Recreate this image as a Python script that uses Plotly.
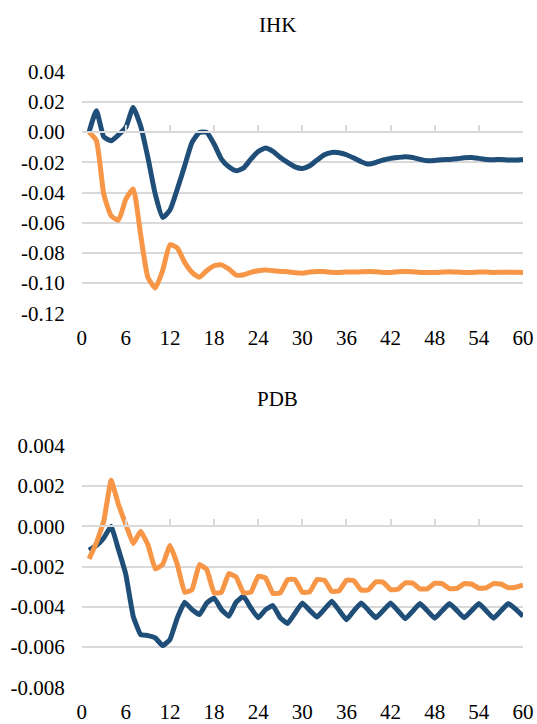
import plotly.graph_objects as go

# ---------------- data ----------------
periods = list(range(1, 61))

ihk_blue = [0.000, 0.0141, -0.0031, -0.0057, -0.0018, 0.0031, 0.0163, 0.0042, -0.0168, -0.0411,
            -0.0565, -0.0516, -0.0377, -0.0223, -0.0068, -0.0002, -0.0002, -0.0079, -0.0179, -0.0230,
            -0.0256, -0.0238, -0.0179, -0.0128, -0.0106, -0.0128, -0.0168, -0.0201, -0.0230, -0.0241,
            -0.0223, -0.0185, -0.0150, -0.0135, -0.0137, -0.0150, -0.0172, -0.0196, -0.0212, -0.0201,
            -0.0185, -0.0174, -0.0168, -0.0163, -0.0168, -0.0181, -0.0190, -0.0188, -0.0183, -0.0181,
            -0.0177, -0.0170, -0.0168, -0.0174, -0.0181, -0.0183, -0.0181, -0.0185, -0.0185, -0.0181]

ihk_orange = [0.000, -0.0057, -0.0411, -0.0554, -0.0583, -0.0444, -0.0377, -0.0675, -0.0962, -0.1033,
              -0.0918, -0.0746, -0.0768, -0.0863, -0.0929, -0.0962, -0.0918, -0.0885, -0.0879, -0.0907,
              -0.0947, -0.0945, -0.0929, -0.0918, -0.0914, -0.0918, -0.0923, -0.0925, -0.0931, -0.0934,
              -0.0927, -0.0923, -0.0923, -0.0929, -0.0929, -0.0927, -0.0927, -0.0925, -0.0923, -0.0925,
              -0.0929, -0.0929, -0.0925, -0.0923, -0.0925, -0.0929, -0.0929, -0.0929, -0.0927, -0.0925,
              -0.0927, -0.0929, -0.0929, -0.0927, -0.0927, -0.0929, -0.0928, -0.0928, -0.0928, -0.0929]

pdb_blue = [-0.00119, -0.00096, -0.00058, 0.00000, -0.00116, -0.00240, -0.00447, -0.00538, -0.00543, -0.00555,
            -0.00593, -0.00563, -0.00455, -0.00377, -0.00414, -0.00439, -0.00381, -0.00356, -0.00414, -0.00447,
            -0.00377, -0.00348, -0.00406, -0.00455, -0.00414, -0.00394, -0.00455, -0.00483, -0.00432, -0.00381,
            -0.00418, -0.00451, -0.00412, -0.00372, -0.00418, -0.00464, -0.00420, -0.00381, -0.00418, -0.00455,
            -0.00418, -0.00381, -0.00420, -0.00460, -0.00422, -0.00384, -0.00420, -0.00457, -0.00420, -0.00384,
            -0.00418, -0.00455, -0.00420, -0.00384, -0.00420, -0.00457, -0.00420, -0.00384, -0.00412, -0.00447]

pdb_orange = [-0.00162, -0.00083, 0.00025, 0.00228, 0.00108, 0.00008, -0.00086, -0.00025, -0.00091, -0.00212,
              -0.00190, -0.00096, -0.00190, -0.00328, -0.00315, -0.00190, -0.00215, -0.00331, -0.00328, -0.00235,
              -0.00252, -0.00331, -0.00328, -0.00248, -0.00257, -0.00334, -0.00331, -0.00265, -0.00265, -0.00328,
              -0.00326, -0.00265, -0.00268, -0.00323, -0.00321, -0.00268, -0.00270, -0.00318, -0.00316, -0.00276,
              -0.00278, -0.00315, -0.00313, -0.00281, -0.00283, -0.00311, -0.00311, -0.00283, -0.00285, -0.00310,
              -0.00309, -0.00285, -0.00287, -0.00308, -0.00306, -0.00285, -0.00287, -0.00305, -0.00303, -0.00293]

titles = ["IHK", "PDB"]

x_tickvals = list(range(0, 61, 6))
x_ticktext = [str(v) for v in x_tickvals]

ihk_tickvals = [0.04, 0.02, 0.00, -0.02, -0.04, -0.06, -0.08, -0.10, -0.12]
ihk_ticktext = ["0.04", "0.02", "0.00", "-0.02", "-0.04", "-0.06", "-0.08", "-0.10", "-0.12"]
pdb_tickvals = [0.004, 0.002, 0.000, -0.002, -0.004, -0.006, -0.008]
pdb_ticktext = ["0.004", "0.002", "0.000", "-0.002", "-0.004", "-0.006", "-0.008"]

# ---------------- style ----------------
W, H = 537, 724
BLUE = "#1F4E79"
ORANGE = "#F79646"
GRID = "#D9D9D9"
FONT = "Liberation Serif"
FS = 21
LW = 5


def px_x(p):
    return p / W


def px_y(p):
    return 1 - p / H


x_dom = [px_x(81.7), px_x(523.0)]
top_dom = [px_y(313.3), px_y(71.7)]
bot_dom = [px_y(687.3), px_y(445.7)]
top_rng = [-0.12, 0.04]
bot_rng = [-0.008, 0.004]


def zero_pos(dom, rng):
    return dom[0] + (0 - rng[0]) / (rng[1] - rng[0]) * (dom[1] - dom[0])


fig = go.Figure()

# top panel
fig.add_trace(go.Scatter(x=periods, y=ihk_orange, mode="lines", line=dict(color=ORANGE, width=LW, shape="spline", smoothing=0.5),
                         xaxis="x", yaxis="y", showlegend=False, hoverinfo="skip"))
fig.add_trace(go.Scatter(x=periods, y=ihk_blue, mode="lines", line=dict(color=BLUE, width=LW, shape="spline", smoothing=0.5),
                         xaxis="x", yaxis="y", showlegend=False, hoverinfo="skip"))
# bottom panel
fig.add_trace(go.Scatter(x=periods, y=pdb_blue, mode="lines", line=dict(color=BLUE, width=LW, shape="spline", smoothing=0.3),
                         xaxis="x2", yaxis="y2", showlegend=False, hoverinfo="skip"))
fig.add_trace(go.Scatter(x=periods, y=pdb_orange, mode="lines", line=dict(color=ORANGE, width=LW, shape="spline", smoothing=0.3),
                         xaxis="x2", yaxis="y2", showlegend=False, hoverinfo="skip"))
# empty traces so the zero-line tick axes exist
fig.add_trace(go.Scatter(x=[None], y=[None], xaxis="x3", yaxis="y", showlegend=False, hoverinfo="skip"))
fig.add_trace(go.Scatter(x=[None], y=[None], xaxis="x4", yaxis="y2", showlegend=False, hoverinfo="skip"))

xcommon = dict(range=[0, 60], tickvals=x_tickvals, ticktext=x_ticktext, showgrid=False, zeroline=False,
               showline=False, ticks="", tickfont=dict(family=FONT, size=FS, color="#000"),
               ticklabelstandoff=10, fixedrange=True, automargin=False)
ycommon = dict(showgrid=True, gridcolor=GRID, gridwidth=1.5, zeroline=False, showline=False, ticks="",
               tickfont=dict(family=FONT, size=FS, color="#000"), ticklabelstandoff=16, fixedrange=True,
               automargin=False)
tickaxis = dict(range=[0, 60], tickvals=x_tickvals, showticklabels=False, showgrid=False, zeroline=False,
                showline=True, linecolor=GRID, linewidth=1.5, ticks="inside", ticklen=6, tickwidth=1.5,
                tickcolor=GRID, anchor="free", side="bottom", fixedrange=True, automargin=False)

fig.update_layout(
    width=W, height=H,
    margin=dict(l=0, r=0, t=0, b=0, pad=0, autoexpand=False),
    paper_bgcolor="white", plot_bgcolor="white",
    font=dict(family=FONT),
    xaxis=dict(domain=x_dom, anchor="y", **xcommon),
    yaxis=dict(domain=top_dom, anchor="x", range=top_rng, tickvals=ihk_tickvals, ticktext=ihk_ticktext, **ycommon),
    xaxis2=dict(domain=x_dom, anchor="y2", **xcommon),
    yaxis2=dict(domain=bot_dom, anchor="x2", range=bot_rng, tickvals=pdb_tickvals, ticktext=pdb_ticktext, **ycommon),
    xaxis3=dict(domain=x_dom, overlaying="x", position=zero_pos(top_dom, top_rng), **tickaxis),
    xaxis4=dict(domain=x_dom, overlaying="x2", position=zero_pos(bot_dom, bot_rng), **tickaxis),
    annotations=[
        dict(text=titles[0], x=px_x(277), y=px_y(25), xref="paper", yref="paper", showarrow=False,
             xanchor="center", yanchor="middle", font=dict(family=FONT, size=FS, color="#000")),
        dict(text=titles[1], x=px_x(277), y=px_y(399), xref="paper", yref="paper", showarrow=False,
             xanchor="center", yanchor="middle", font=dict(family=FONT, size=FS, color="#000")),
    ],
)

fig.write_html(
    "out.html",
    config=dict(displayModeBar=False),
    post_script="document.body.style.margin='0';document.body.style.overflow='hidden';",
)
